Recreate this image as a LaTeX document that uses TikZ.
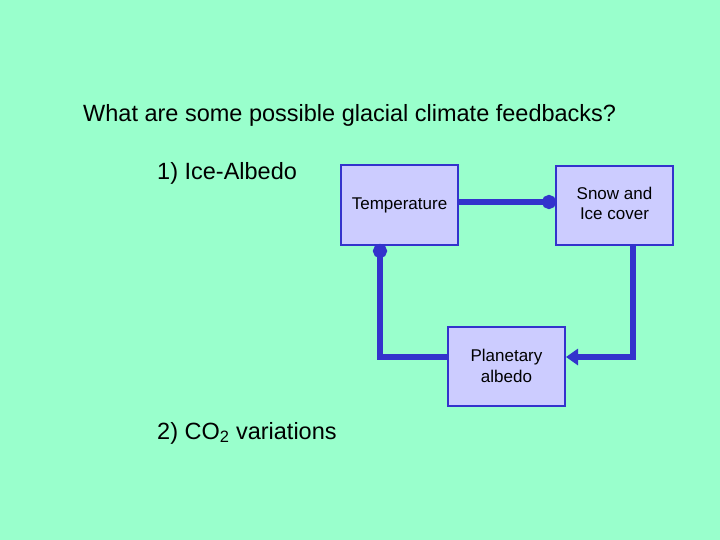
\documentclass[tikz,border=0pt]{standalone}
\usepackage{fontspec}
\setmainfont{Liberation Sans}
\usetikzlibrary{arrows.meta}
\definecolor{bg}{HTML}{99FFCC}
\definecolor{boxf}{HTML}{CCCCFF}
\definecolor{ln}{HTML}{3333CC}
\begin{document}
\begin{tikzpicture}[x=1pt,y=-1pt,
  box/.style={draw=ln,fill=boxf,line width=2pt,minimum width=117pt,minimum height=79pt,align=center,font=\fontsize{17}{21}\selectfont,inner sep=0pt},
  conn/.style={draw=ln,line width=6pt},
  lbl/.style={anchor=base west,inner sep=0pt,font=\fontsize{23.5}{28}\selectfont}]
\fill[bg] (0,0) rectangle (720,540);
\useasboundingbox (0,0) rectangle (720,540);
\node[lbl] (title) at (83,122) {What are some possible glacial climate feedbacks?};
\node[lbl] (l1) at (157,180) {1) Ice-Albedo};
\node[lbl] (l2) at (157,439) {2) CO\textsubscript{2} variations};
\node[box] (temp) at (399.5,205) {\raisebox{3pt}{Temperature}};
\node[box] (snow) at (614.5,205.5) {\raisebox{12pt}{\begin{tabular}{@{}c@{}}Snow and\\[-1pt]Ice cover\end{tabular}}};
\node[box] (alb) at (506.5,366) {Planetary\\albedo};
\coordinate (c1) at (380,357);
\coordinate (c2) at (633,357);
\draw[conn,-{Circle[length=14pt,width=14pt]}] (temp.east |- 0,202) -- (556,202);
\draw[conn,{Circle[length=14pt,width=14pt]}-] (380,244) -- (c1) -- (alb.west |- c1);
\draw[conn,-{Triangle[length=12pt,width=16pt]}] (snow.south -| c2) -- (c2) -- (alb.east |- c2);
\end{tikzpicture}
\end{document}
